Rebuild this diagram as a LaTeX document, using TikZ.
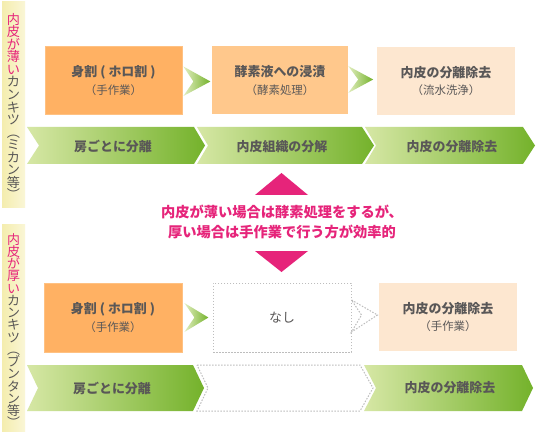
\documentclass[tikz,border=0pt]{standalone}
\usepackage{fontspec}
\setmainfont{Noto Sans CJK JP}
\usetikzlibrary{calc}
\definecolor{txt}{HTML}{595757}
\definecolor{pinkc}{HTML}{E6247A}
\definecolor{glight}{HTML}{D6E7A5}
\definecolor{gdark}{HTML}{74B22B}
\definecolor{boxa}{HTML}{FFB163}
\definecolor{boxb}{HTML}{FFC88C}
\definecolor{boxc}{HTML}{FDE7D0}
\definecolor{stripl}{HTML}{F4EDAE}
\definecolor{stripr}{HTML}{FAF6D6}
\definecolor{dotg}{HTML}{BDBDBD}
\begin{document}
\begin{tikzpicture}[x=1bp,y=-1bp,
  stepbox/.style={minimum width=137bp, minimum height=68bp, inner sep=0pt, align=center,
    text=txt, font=\fontsize{13}{18}\selectfont\bfseries},
  bartext/.style={text=txt, font=\fontsize{13}{15}\selectfont\bfseries, inner sep=0pt},
  sidetext/.style={align=center, text=txt, inner sep=0pt},
  greenfill/.style={left color=glight, right color=gdark},
  dotline/.style={draw=dotg, line width=1bp, dash pattern=on 1.5bp off 1.5bp},
  chevfill/.style={left color=glight!70!white, right color=gdark},
]
\newcommand{\subl}[1]{{\fontsize{11.5}{18}\selectfont\mdseries #1}}
\useasboundingbox (0,0) rectangle (536,440);
\fill[white] (0,0) rectangle (536,440);

% side strips
\shade[left color=stripl, right color=stripr] (2,2) rectangle (25,208);
\shade[left color=stripl, right color=stripr] (2,225) rectangle (25,431);
\node[sidetext, font=\fontsize{13.2}{12.6}\selectfont] (side1) at (13.5,106.5)
 {\textcolor{pinkc}{内}\\\textcolor{pinkc}{皮}\\\textcolor{pinkc}{が}\\\textcolor{pinkc}{薄}\\\textcolor{pinkc}{い}\\カ\\ン\\キ\\ツ\\︵\\ミ\\カ\\ン\\等\\︶};
\node[sidetext, font=\fontsize{13}{12.3}\selectfont] (side2) at (13.5,330.5)
 {\textcolor{pinkc}{内}\\\textcolor{pinkc}{皮}\\\textcolor{pinkc}{が}\\\textcolor{pinkc}{厚}\\\textcolor{pinkc}{い}\\カ\\ン\\キ\\ツ\\︵\\ブ\\ン\\タ\\ン\\等\\︶};

% row 1 boxes
\node[stepbox, fill=boxa, draw=boxa!80!white, line width=0.8bp] (a1) at (113.5,80.5) {身割 ( ホロ割 )\\\subl{（手作業）}};
\node[stepbox, fill=boxb, minimum width=136bp] (a2) at (280,80.5) {酵素液への浸漬\\\subl{（酵素処理）}};
\node[stepbox, fill=boxc, minimum width=138bp] (a3) at (446,81) {内皮の分離除去\\\subl{（流水洗浄）}};

% row 1 chevrons
\shade[chevfill] ($(a1.east)+(1,-14)$) -- ($(a1.east)+(28,1)$) -- ($(a1.east)+(1,15.5)$) -- ($(a1.east)+(11,1)$) -- cycle;
\shade[chevfill] ($(a2.east)+(0,-14.5)$) -- ($(a2.east)+(25,-1)$) -- ($(a2.east)+(0,12.5)$) -- ($(a2.east)+(10,-1)$) -- cycle;

% row 1 bar
\shade[greenfill] (27,127) -- (194,127) -- (205,145.5) -- (194,164) -- (27,164) -- (39,145.5) -- cycle;
\shade[greenfill] (197,127) -- (362,127) -- (374,145.5) -- (362,164) -- (197,164) -- (208,145.5) -- cycle;
\shade[greenfill] (365,127) -- (523,127) -- (535,145.5) -- (523,164) -- (365,164) -- (376,145.5) -- cycle;
\node[bartext] (g1) at (113,146.5) {房ごとに分離};
\node[bartext] (g2) at (282,146.5) {内皮組織の分解};
\node[bartext] (g3) at (452,146.5) {内皮の分離除去};

% middle
\fill[pinkc] (281.5,173) -- (308,195) -- (255,195) -- cycle;
\fill[pinkc] (255,251) -- (308,251) -- (281.5,272) -- cycle;
\node[align=center, text=pinkc, font=\fontsize{14.3}{20}\selectfont\bfseries, inner sep=0pt] (note) at (282,222)
 {内皮が薄い場合は酵素処理をするが、\\厚い場合は手作業で行う方が効率的};

% row 2 boxes
\node[stepbox, fill=boxa, draw=boxa!80!white, line width=0.8bp, minimum width=138bp, minimum height=69bp] (b1) at (113,317.5) {身割 ( ホロ割 )\\\subl{（手作業）}};
\node[stepbox, dotline, minimum width=138bp, minimum height=69bp, font=\fontsize{13}{18}\selectfont\mdseries] (b2) at (282,317.5) {なし};
\node[stepbox, fill=boxc, minimum width=138bp, minimum height=68bp] (b3) at (448,317) {内皮の分離除去\\\subl{（手作業）}};

% row 2 chevrons
\shade[chevfill] ($(b1.east)+(2,-14.5)$) -- ($(b1.east)+(26,0)$) -- ($(b1.east)+(2,14.5)$) -- ($(b1.east)+(12,0)$) -- cycle;
\draw[dotline] ($(b2.east)+(0,-17.5)$) -- ($(b2.east)+(26,-2.5)$) -- ($(b2.east)+(0,14.5)$) -- ($(b2.east)+(10,-2.5)$) -- cycle;

% row 2 bar
\shade[greenfill] (27,365) -- (193,365) -- (204,388) -- (193,411) -- (27,411) -- (38,388) -- cycle;
\draw[dotline] (197,365) -- (360,365) -- (373,388) -- (360,411) -- (197,411) -- (208,388) -- cycle;
\shade[greenfill] (364,365) -- (522,365) -- (533,388) -- (522,411) -- (364,411) -- (376,388) -- cycle;
\node[bartext] (h1) at (112,388) {房ごとに分離};
\node[bartext] (h3) at (450,388) {内皮の分離除去};
\end{tikzpicture}
\end{document}
